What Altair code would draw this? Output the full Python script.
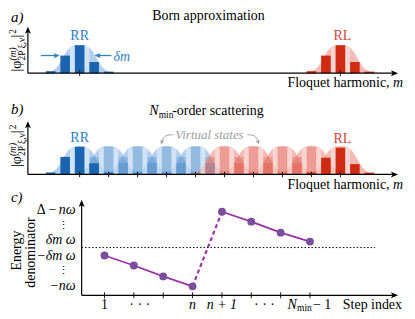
import altair as alt
import pandas as pd

FONT = "'Liberation Serif', 'Times New Roman', 'DejaVu Serif', serif"
BLUE_DARK = "#1b64b0"
BLUE_FILL = "#7fb1e3"
BLUE_TEXT = "#2b80c4"
RED_DARK = "#cf2a12"
RED_FILL = "#ec8c82"
RED_TEXT = "#d2453a"
PURPLE_DOT = "#7a4d9e"
PURPLE_LINE = "#9b31a8"
GRAY = "#9c9c9c"

# ---------------- data ----------------
# envelope of one wave packet (offset in harmonics -> relative height)
env_offset = [-2.7, -2.3, -1.9, -1.6, -1.3, -1.0, -0.7, -0.4, 0.0, 0.4, 0.7, 1.0, 1.3, 1.6, 1.9, 2.3, 2.7]
env_height = [0.0, 0.02, 0.08, 0.2, 0.43, 0.70, 0.90, 0.99, 1.02, 0.99, 0.90, 0.70, 0.43, 0.2, 0.08, 0.02, 0.0]
stripe_offset = [-0.5, 0.5]
stripe_height = [0.96, 0.96]

bar_offset = [-2, -1, 0, 1, 2]
rr_bar_a = [0.07, 0.63, 1.00, 0.40, 0.055]
rl_bar_a = [0.07, 0.63, 1.00, 0.40, 0.055]
rr_bar_b = [0.07, 0.63, 0.99, 0.40, 0.06]
rl_bar_b = [0.07, 0.60, 0.96, 0.37, 0.065]
virtual_bar = [0.07, 0.63, 1.00, 0.40, 0.055]

born_center = [0, 18]
born_side = ["blue", "red"]
chain_center = [0, 2, 4, 6, 8, 10, 12, 14, 16, 18]
chain_side = ["blue"] * 5 + ["red"] * 5

step = [1, 2, 3, 4, 5, 6, 7, 8]
energy = [-0.8, -1.8, -2.9, -3.9, 3.6, 2.6, 1.5, 0.6]
segment = ["a", "a", "a", "a", "b", "b", "b", "b"]

ylab_text = ["Δ −", "nω", "δm ω", "−δm ω", "−nω"]
ylab_value = [3.8, 3.8, 0.75, -0.8, -3.85]
ylab_italic = [False, True, True, True, True]
ylab_x = [54.5, 74, 74, 74, 74]
vdots_value = [2.15, -2.4]

xlab_text = ["1", "· · ·", "n", "n + 1", "· · ·"]
xlab_step = [1, 2.2, 4, 5, 6.45]
xlab_italic = [False, False, True, True, False]

# ---------------- layout ----------------
W = 399
A_TOP, A_H = 8, 86
B_TOP, B_H = 94, 97
C_TOP, C_H = 191, 120
M0_PX, PX_M = 78.0, 14.56           # harmonic axis mapping (panels a, b)
BAR_PX = 28.0                        # px per unit of relative height
A_BASE, B_BASE = 71.7, 173.5
S1_PX, PX_S = 103.0, 29.5            # step axis mapping (panel c)
C_ZERO, PX_E = 247.0, 10.0


def mx(px):
    return (px - M0_PX) / PX_M


def sx(px):
    return 1 + (px - S1_PX) / PX_S


xs_ab = alt.Scale(domain=[mx(8), mx(8 + W)], nice=False, zero=False)
ys_a = alt.Scale(domain=[-(A_TOP + A_H - A_BASE) / BAR_PX, (A_BASE - A_TOP) / BAR_PX], nice=False, zero=False)
ys_b = alt.Scale(domain=[-(B_TOP + B_H - B_BASE) / BAR_PX, (B_BASE - B_TOP) / BAR_PX], nice=False, zero=False)
xs_c = alt.Scale(domain=[sx(8), sx(8 + W)], nice=False, zero=False)
ys_c = alt.Scale(domain=[-(C_TOP + C_H - C_ZERO) / PX_E, (C_ZERO - C_TOP) / PX_E], nice=False, zero=False)

UP_PATH = "M0,-1 L0.75,0.8 L0,0.35 L-0.75,0.8 Z"
RIGHT_PATH = "M1,0 L-0.8,0.75 L-0.35,0 L-0.8,-0.75 Z"
LEFT_PATH = "M-1,0 L0.8,0.75 L0.35,0 L0.8,-0.75 Z"

ONE = pd.DataFrame({"k": [0]})


def label(text, x, y, top, size=14, align="center", baseline="middle", color="black",
          italic=False, angle=0, bold=False):
    kw = dict(text=text, font=FONT, fontSize=size, align=align, baseline=baseline, color=color,
              fontStyle="italic" if italic else "normal", fontWeight="bold" if bold else "normal")
    if angle:
        kw["angle"] = angle
    return alt.Chart(ONE).mark_text(**kw).encode(x=alt.value(x - 8), y=alt.value(y - top))


def packet_frames(centers, sides, profiles):
    env, bars, stripes = [], [], []
    for i, (c, s, p) in enumerate(zip(centers, sides, profiles)):
        for o, h in zip(env_offset, env_height):
            env.append({"hump": i, "side": s, "m": c + o, "h": h})
        for o, h in zip(bar_offset, p):
            bars.append({"hump": i, "side": s, "m": c + o, "h": h, "solid": i in (0, len(centers) - 1)})
        for o, h in zip(stripe_offset, stripe_height):
            stripes.append({"hump": i, "side": s, "m": c + o, "h": h})
    return pd.DataFrame(env), pd.DataFrame(bars), pd.DataFrame(stripes)


def packet_layers(centers, sides, profiles, ys, virtual_opacity):
    env, bars, stripes = packet_frames(centers, sides, profiles)
    layers = []
    for side, fill in (("blue", BLUE_FILL), ("red", RED_FILL)):
        layers.append(alt.Chart(env[env.side == side]).mark_area(
            color=fill, opacity=0.6, interpolate="monotone").encode(
            x=alt.X("m:Q", scale=xs_ab, axis=None),
            y=alt.Y("h:Q", scale=ys, axis=None, stack=None),
            y2=alt.datum(0), detail="hump:N"))
    layers.append(alt.Chart(stripes).transform_calculate(
        x0="datum.m - 0.17", x1="datum.m + 0.17").mark_rect(color="white", opacity=0.4).encode(
        x=alt.X("x0:Q", scale=xs_ab, axis=None), x2="x1:Q",
        y=alt.Y("h:Q", scale=ys, axis=None), y2=alt.datum(0)))
    for side, dark in (("blue", BLUE_DARK), ("red", RED_DARK)):
        for solid in (False, True):
            sub = bars[(bars.side == side) & (bars.solid == solid)]
            if len(sub) == 0:
                continue
            layers.append(alt.Chart(sub).transform_calculate(
                x0="datum.m - 0.33", x1="datum.m + 0.33").mark_rect(
                color=dark, opacity=1.0 if solid else virtual_opacity).encode(
                x=alt.X("x0:Q", scale=xs_ab, axis=None), x2="x1:Q",
                y=alt.Y("h:Q", scale=ys, axis=None), y2=alt.datum(0)))
    return layers


def axes_layers(xs, ys, x0, x_arrow, y0, y_arrow, ticks, tick_half):
    lines = pd.DataFrame({"x": [x0, x0], "x2": [x0, x_arrow], "y": [y0, y0], "y2": [y_arrow, y0]})
    tk = pd.DataFrame({"t": ticks})
    out = [
        alt.Chart(lines).mark_rule(color="black", strokeWidth=1.2).encode(
            x=alt.X("x:Q", scale=xs, axis=None), x2="x2:Q",
            y=alt.Y("y:Q", scale=ys, axis=None), y2="y2:Q"),
        alt.Chart(tk).transform_calculate(lo=f"{y0 - tick_half}", hi=f"{y0 + tick_half}").mark_rule(
            color="black", strokeWidth=0.9).encode(
            x=alt.X("t:Q", scale=xs, axis=None),
            y=alt.Y("lo:Q", scale=ys, axis=None), y2="hi:Q"),
        alt.Chart(pd.DataFrame({"x": [x0], "y": [y_arrow]})).mark_point(
            shape=UP_PATH, size=64, filled=True, color="black", opacity=1, strokeWidth=0).encode(
            x=alt.X("x:Q", scale=xs, axis=None), y=alt.Y("y:Q", scale=ys, axis=None)),
        alt.Chart(pd.DataFrame({"x": [x_arrow], "y": [y0]})).mark_point(
            shape=RIGHT_PATH, size=64, filled=True, color="black", opacity=1, strokeWidth=0).encode(
            x=alt.X("x:Q", scale=xs, axis=None), y=alt.Y("y:Q", scale=ys, axis=None)),
    ]
    return out


def ylabel_prob(bottom, top):
    return [
        label("|φ", 15.5, bottom, top, size=14, align="left", angle=270),
        label("(m)", 11.5, bottom - 11, top, size=9.5, align="left", angle=270, italic=True),
        label("2P ξ,ν", 20, bottom - 11, top, size=9.5, align="left", angle=270),
        label("|", 15.5, bottom - 34, top, size=14, align="left", angle=270),
        label("2", 11.5, bottom - 38, top, size=9.5, align="left", angle=270),
    ]


def floquet_label(y, top):
    return [
        label("Floquet harmonic,", 389.5, y, top, align="right"),
        label("m", 393, y, top, align="left", italic=True),
    ]


# ---------------- panel a ----------------
a_layers = packet_layers(born_center, born_side, [rr_bar_a, rl_bar_a], ys_a, 1.0)
a_layers += axes_layers(xs_ab, ys_a, mx(26), mx(394), 0, (A_BASE - 29) / BAR_PX, born_center, 0.1)

dm_lines = pd.DataFrame({"x": [mx(39), mx(110)], "x2": [mx(56), mx(95)], "y": [0.632, 0.632]})
a_layers.append(alt.Chart(dm_lines).mark_rule(color=BLUE_TEXT, strokeWidth=1.3).encode(
    x=alt.X("x:Q", scale=xs_ab, axis=None), x2="x2:Q", y=alt.Y("y:Q", scale=ys_a, axis=None)))
a_layers.append(alt.Chart(pd.DataFrame({"x": [mx(54.5)], "y": [0.632]})).mark_point(
    shape=RIGHT_PATH, size=49, filled=True, color=BLUE_TEXT, opacity=1, strokeWidth=0).encode(
    x=alt.X("x:Q", scale=xs_ab, axis=None), y=alt.Y("y:Q", scale=ys_a, axis=None)))
a_layers.append(alt.Chart(pd.DataFrame({"x": [mx(96.5)], "y": [0.632]})).mark_point(
    shape=LEFT_PATH, size=49, filled=True, color=BLUE_TEXT, opacity=1, strokeWidth=0).encode(
    x=alt.X("x:Q", scale=xs_ab, axis=None), y=alt.Y("y:Q", scale=ys_a, axis=None)))

a_layers += [
    label("a)", 9, 15.5, A_TOP, size=15, align="left", italic=True),
    label("Born approximation", 207.5, 14.5, A_TOP),
    label("RR", 78, 34, A_TOP, color=BLUE_TEXT),
    label("RL", 342, 34, A_TOP, color=RED_TEXT),
    label("δm", 112, 55, A_TOP, color=BLUE_TEXT, italic=True, align="left"),
]
a_layers += floquet_label(82, A_TOP)
a_layers += ylabel_prob(70, A_TOP)
panel_a = alt.layer(*a_layers).properties(width=W, height=A_H)

# ---------------- panel b ----------------
b_profiles = [rr_bar_b] + [virtual_bar] * 8 + [rl_bar_b]
b_layers = packet_layers(chain_center, chain_side, b_profiles, ys_b, 0.2)
b_layers += axes_layers(xs_ab, ys_b, mx(26), mx(394), 0, (B_BASE - 124) / BAR_PX, chain_center, 0.1)


def by(py):
    return (B_BASE - py) / BAR_PX


curves = pd.DataFrame({
    "arrow": ["l", "l", "l", "r", "r", "r"],
    "m": [mx(172), mx(163.5), mx(161), mx(246.5), mx(254.5), mx(257)],
    "v": [by(133.5), by(134), by(139.5), by(133.5), by(134), by(139.5)],
    "o": [0, 1, 2, 0, 1, 2],
})
b_layers.append(alt.Chart(curves).mark_line(color=GRAY, strokeWidth=1, interpolate="basis").encode(
    x=alt.X("m:Q", scale=xs_ab, axis=None), y=alt.Y("v:Q", scale=ys_b, axis=None),
    detail="arrow:N", order="o:Q"))
for ax, ang in ((160.6, 200), (257.4, 160)):
    b_layers.append(alt.Chart(pd.DataFrame({"m": [mx(ax)], "v": [by(140.8)]})).mark_point(
        shape=UP_PATH, size=30, filled=True, color=GRAY, opacity=1, strokeWidth=0, angle=ang).encode(
        x=alt.X("m:Q", scale=xs_ab, axis=None), y=alt.Y("v:Q", scale=ys_b, axis=None)))

b_layers += [
    label("b)", 9, 107.5, B_TOP, size=15, align="left", italic=True),
    label("N", 148, 110, B_TOP, align="left", italic=True),
    label("min", 157.5, 113.5, B_TOP, size=9.5, align="left"),
    label("-order scattering", 171, 110, B_TOP, align="left"),
    label("Virtual states", 208.5, 134, B_TOP, size=13, color=GRAY, italic=True),
    label("RR", 78, 137, B_TOP, color=BLUE_TEXT),
    label("RL", 342, 138, B_TOP, color=RED_TEXT),
]
b_layers += floquet_label(184.5, B_TOP)
b_layers += ylabel_prob(166, B_TOP)
panel_b = alt.layer(*b_layers).properties(width=W, height=B_H)

# ---------------- panel c ----------------
c_layers = []
c_layers.append(alt.Chart(pd.DataFrame({"x": [sx(80)], "x2": [sx(375)], "y": [0]})).mark_rule(
    color="black", strokeWidth=1, strokeDash=[1.5, 2]).encode(
    x=alt.X("x:Q", scale=xs_c, axis=None), x2="x2:Q", y=alt.Y("y:Q", scale=ys_c, axis=None)))
c_base = -(295 - C_ZERO) / PX_E
c_layers += axes_layers(xs_c, ys_c, sx(80), sx(394), c_base, (C_ZERO - 203) / PX_E, step, 0.3)

pts = pd.DataFrame({"step": step, "energy": energy, "seg": segment})
c_layers.append(alt.Chart(pts).mark_line(color=PURPLE_LINE, strokeWidth=1.8).encode(
    x=alt.X("step:Q", scale=xs_c, axis=None), y=alt.Y("energy:Q", scale=ys_c, axis=None),
    detail="seg:N"))
c_layers.append(alt.Chart(pts[pts.step.isin([4, 5])]).mark_line(
    color=PURPLE_LINE, strokeWidth=2.2, strokeDash=[4, 3]).encode(
    x=alt.X("step:Q", scale=xs_c, axis=None), y=alt.Y("energy:Q", scale=ys_c, axis=None)))
c_layers.append(alt.Chart(pts).mark_circle(size=62, color=PURPLE_DOT, opacity=1).encode(
    x=alt.X("step:Q", scale=xs_c, axis=None), y=alt.Y("energy:Q", scale=ys_c, axis=None)))

yl = pd.DataFrame({"t": ylab_text, "v": ylab_value, "it": ylab_italic, "px": ylab_x})
for it in (False, True):
    for px in sorted(set(ylab_x)):
        sub = yl[(yl.it == it) & (yl.px == px)]
        if len(sub) == 0:
            continue
        c_layers.append(alt.Chart(sub).mark_text(
            font=FONT, fontSize=14, align="right", baseline="middle",
            fontStyle="italic" if it else "normal").encode(
            x=alt.value(px - 8), y=alt.Y("v:Q", scale=ys_c, axis=None), text="t:N"))
c_layers.append(alt.Chart(pd.DataFrame({"v": vdots_value})).mark_text(
    text="⋮", font=FONT, fontSize=11, align="center", baseline="middle").encode(
    x=alt.value(62 - 8), y=alt.Y("v:Q", scale=ys_c, axis=None)))

xl = pd.DataFrame({"t": xlab_text, "s": xlab_step, "it": xlab_italic})
for it in (False, True):
    c_layers.append(alt.Chart(xl[xl.it == it]).mark_text(
        font=FONT, fontSize=14, align="center", baseline="middle",
        fontStyle="italic" if it else "normal").encode(
        x=alt.X("s:Q", scale=xs_c, axis=None), y=alt.value(304.5 - C_TOP), text="t:N"))

c_layers += [
    label("N", 287, 304.5, C_TOP, align="left", italic=True),
    label("min", 296.5, 308, C_TOP, size=9.5, align="left"),
    label("− 1", 312.5, 304.5, C_TOP, align="left"),
    label("Step index", 402, 304.5, C_TOP, align="right"),
    label("c)", 9, 196, C_TOP, size=15, align="left", italic=True),
    label("Energy", 15, 250, C_TOP, angle=270),
    label("denominator", 29, 252, C_TOP, angle=270),
]
panel_c = alt.layer(*c_layers).properties(width=W, height=C_H)

chart = alt.vconcat(panel_a, panel_b, panel_c, spacing=0, padding=0, bounds="flush").configure(
    background="white").configure_view(stroke=None)

chart.save("out.html", embed_options={"renderer": "svg", "actions": False})
